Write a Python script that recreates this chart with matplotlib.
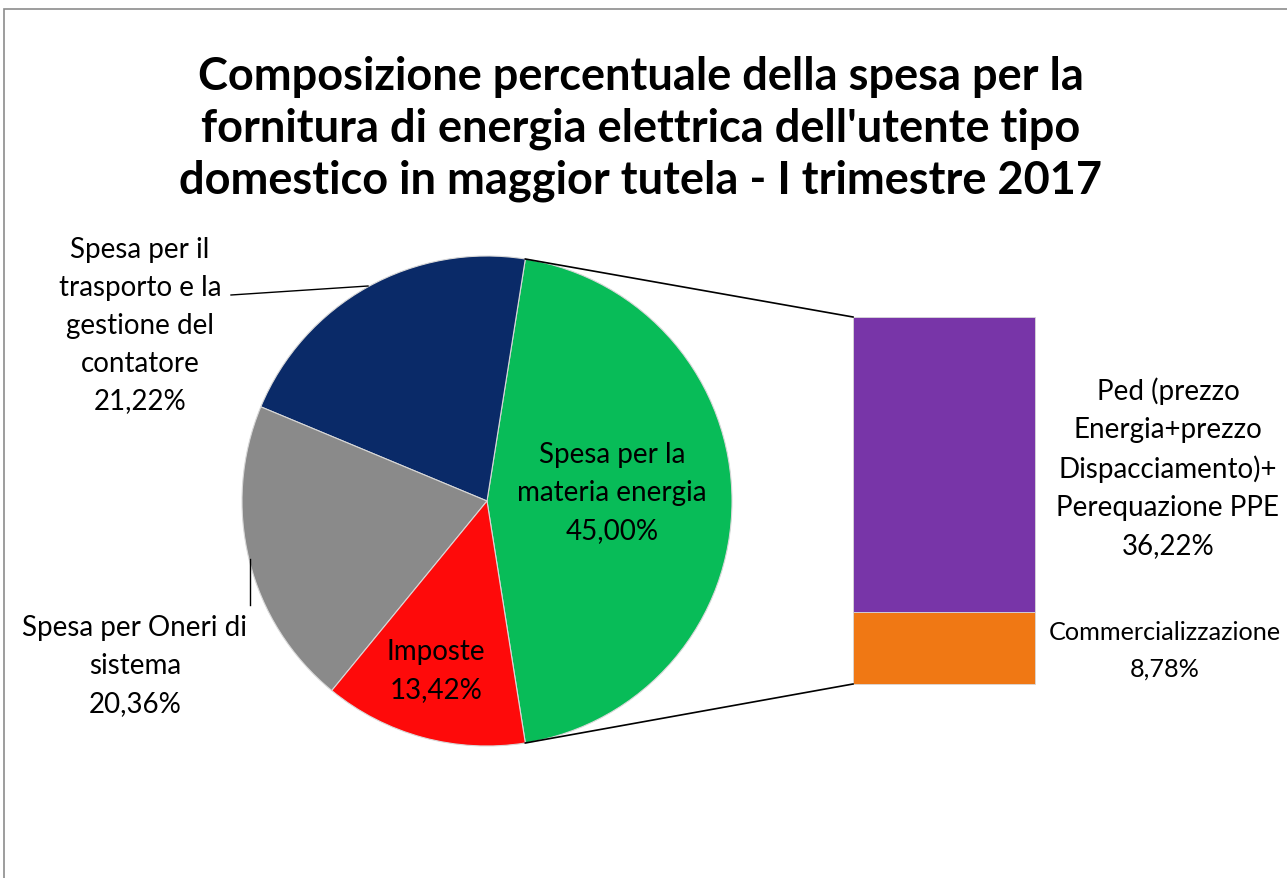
import matplotlib.pyplot as plt
from matplotlib.patches import Rectangle
import numpy as np

# data
pie_labels = ['Spesa per la\nmateria energia', 'Spesa per il\ntrasporto e la\ngestione del\ncontatore',
              'Spesa per Oneri di\nsistema', 'Imposte']
pie_values = [45.00, 21.22, 20.36, 13.42]
pie_colors = ['#08BC58', '#0A2A68', '#8A8A8A', '#FE0A0A']

bar_labels = ['Commercializzazione', 'Ped (prezzo\nEnergia+prezzo\nDispacciamento)+\nPerequazione PPE']
bar_values = [8.78, 36.22]
bar_colors = ['#F07814', '#7835A8']

title = ("Composizione percentuale della spesa per la\n"
         "fornitura di energia elettrica dell'utente tipo\n"
         "domestico in maggior tutela - I trimestre 2017")

def pct(v):
    return f'{v:.2f}%'.replace('.', ',')

W, H = 1287, 879
plt.rcParams['font.family'] = ['Lato', 'DejaVu Sans']
fig = plt.figure(figsize=(W / 100, H / 100), dpi=100)
ax = fig.add_axes([0, 0, 1, 1])

# pie geometry (pixel coords, y up)
cx, cy, r = 487, H - 502, 245
start = -pie_values[0] / 100 * 360 / 2
wedges, _ = ax.pie(pie_values, colors=pie_colors, center=(cx, cy), radius=r,
                   startangle=start, counterclock=True,
                   wedgeprops=dict(linewidth=0.8, edgecolor='#d8d8d8'))

# bar geometry
bx, bw, bbot = 853, 182, H - 685
scale = 367 / sum(bar_values)
bottom = bbot
for v, c in zip(bar_values, bar_colors):
    ax.bar(bx + bw / 2, v * scale, width=bw, bottom=bottom, color=c,
           edgecolor='#d8d8d8', linewidth=0.6)
    bottom += v * scale

# connector lines
a = np.deg2rad(-start)
ax.plot([cx + r * np.cos(a), bx], [cy + r * np.sin(a), bbot + sum(bar_values) * scale],
        color='black', lw=1.2)
ax.plot([cx + r * np.cos(-a), bx], [cy + r * np.sin(-a), bbot], color='black', lw=1.2)

fs = 20
ls = 1.56
# labels inside pie
ax.text(612, H - 493, pie_labels[0] + '\n' + pct(pie_values[0]), ha='center', va='center',
        fontsize=fs, linespacing=ls)
ax.text(436, H - 671, pie_labels[3] + '\n' + pct(pie_values[3]), ha='center', va='center',
        fontsize=fs, linespacing=ls)
# outside labels
ax.text(140, H - 326, pie_labels[1] + '\n' + pct(pie_values[1]), ha='center', va='center',
        fontsize=fs, linespacing=ls)
ax.text(135, H - 666, pie_labels[2] + '\n' + pct(pie_values[2]), ha='center', va='center',
        fontsize=fs, linespacing=ls)
ax.plot([231, 368], [H - 296, H - 287], color='black', lw=1)
ax.plot([250, 250], [H - 560, H - 606], color='black', lw=1)

ax.text(1168, H - 468, bar_labels[1] + '\n' + pct(bar_values[1]), ha='center', va='center',
        fontsize=fs, linespacing=ls)
ax.text(1165, H - 651, bar_labels[0] + '\n' + pct(bar_values[0]), ha='center', va='center',
        fontsize=18.2, linespacing=1.7)

ax.text(W / 2 - 3, H - 129, title, ha='center', va='center', fontsize=32.5,
        fontweight='bold', linespacing=1.27)

ax.add_patch(Rectangle((4, -50), 1400, H - 10 + 50, fill=False, edgecolor='#8C8C8C', lw=1.2))

ax.set_xlim(0, W)
ax.set_ylim(0, H)
ax.set_aspect('auto')
ax.axis('off')
fig.savefig('out.png', dpi=100)
